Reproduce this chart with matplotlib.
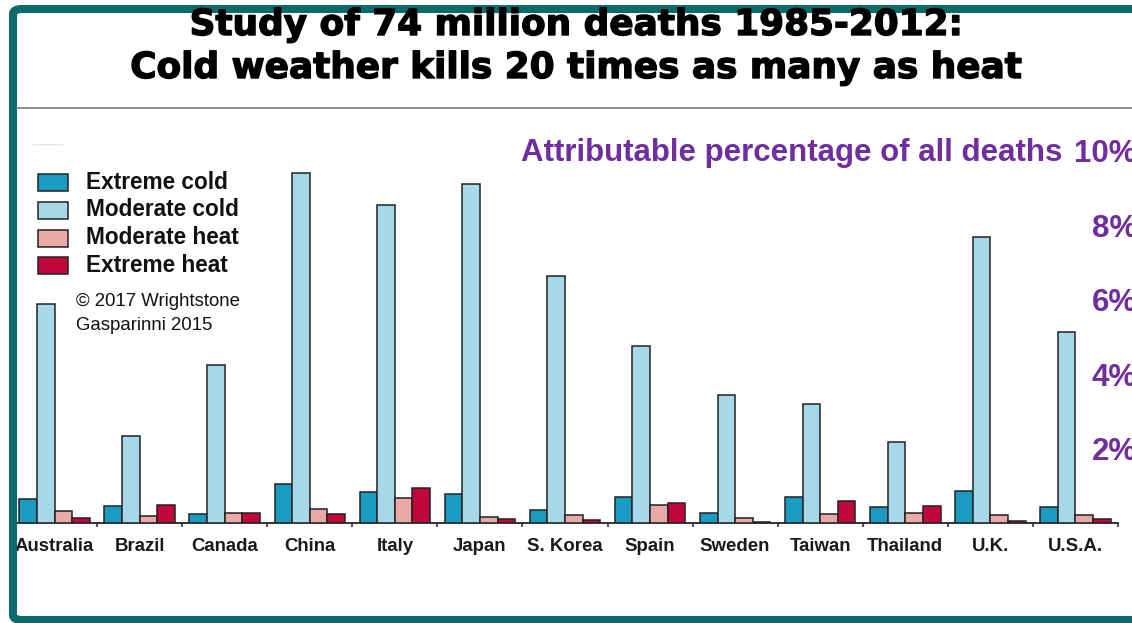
import matplotlib
matplotlib.use("Agg")
import matplotlib.pyplot as plt
import matplotlib.patheffects as pe
from matplotlib.patches import Rectangle, FancyBboxPatch
from matplotlib.lines import Line2D
import numpy as np

plt.rcParams['font.family'] = ['Liberation Sans', 'DejaVu Sans']

countries = ["Australia", "Brazil", "Canada", "China", "Italy", "Japan", "S. Korea",
             "Spain", "Sweden", "Taiwan", "Thailand", "U.K.", "U.S.A."]
extreme_cold = [0.65, 0.47, 0.23, 1.04, 0.83, 0.77, 0.35, 0.71, 0.26, 0.71, 0.44, 0.87, 0.44]
moderate_cold = [5.89, 2.34, 4.25, 9.41, 8.55, 9.11, 6.64, 4.76, 3.44, 3.20, 2.18, 7.69, 5.13]
moderate_heat = [0.32, 0.20, 0.26, 0.38, 0.68, 0.17, 0.21, 0.48, 0.13, 0.24, 0.28, 0.21, 0.21]
extreme_heat = [0.13, 0.48, 0.26, 0.23, 0.95, 0.11, 0.08, 0.53, 0.04, 0.59, 0.47, 0.05, 0.12]

series_names = ["Extreme cold", "Moderate cold", "Moderate heat", "Extreme heat"]
series_colors = ["#1b9bc2", "#a7d8ea", "#e9a9a6", "#c1073a"]
y_ticks = [2, 4, 6, 8, 10]
y_labels = ["2%", "4%", "6%", "8%", "10%"]

W, H = 1132, 623
fig = plt.figure(figsize=(W / 100, H / 100), dpi=100)
fig.patch.set_facecolor("white")

def fx(px):
    return px / W

def fy(py):
    return 1 - py / H

# plotting area: baseline at y=523 px, 37.2 px per percentage point
ax_left, ax_right = 12, 1118
base, top = 523, 523 - 10.5 * 37.2
ax = fig.add_axes([fx(ax_left), fy(base), fx(ax_right - ax_left), (base - top) / H])
ax.set_xlim(-0.5, len(countries) - 0.5)
ax.set_ylim(0, 10.5)

x = np.arange(len(countries))
w = 0.207
purple = "#6f2da0"
edge = "#222222"
for i, (vals, col) in enumerate(zip([extreme_cold, moderate_cold, moderate_heat, extreme_heat],
                                    series_colors)):
    ax.bar(x + (i - 1.5) * w, vals, width=w, color=col, edgecolor=edge, linewidth=1.1,
           label=series_names[i], zorder=3)

for s in ["left", "top", "right"]:
    ax.spines[s].set_visible(False)
ax.spines["bottom"].set_color("#333333")
ax.spines["bottom"].set_linewidth(1.4)
ax.spines["bottom"].set_bounds(-0.44, len(countries) - 0.5)

ax.set_xticks(x)
ax.set_xticklabels(countries, fontsize=13.4, fontweight="bold", color="#1a1a1a")
ax.tick_params(axis="x", which="major", length=0, pad=11)
ax.set_xticks(np.arange(0.5, len(countries)), minor=True)
ax.tick_params(axis="x", which="minor", length=3, width=1.2, color="#333333", direction="out")

ax.yaxis.tick_right()
ax.set_yticks(y_ticks)
ax.set_yticklabels(y_labels, fontsize=22.5, fontweight="bold", color=purple)
ax.tick_params(axis="y", length=0, pad=0)
for lbl in ax.get_yticklabels():
    lbl.set_horizontalalignment("right")
    lbl.set_x(1 + 19 / (ax_right - ax_left))

ax.text(fx(521), fy(153), "Attributable percentage of all deaths", transform=fig.transFigure,
        fontsize=22.5, fontweight="bold", color=purple, ha="left", va="center")

# title block
title_font = ["DejaVu Sans"]
heavy = [pe.withStroke(linewidth=1.0, foreground="black")]
fig.text(fx(577), fy(25), "Study of 74 million deaths 1985-2012:", fontsize=25.8,
         family=title_font, fontweight="bold", ha="center", va="center", color="black",
         path_effects=heavy)
fig.text(fx(577), fy(68), "Cold weather kills 20 times as many as heat", fontsize=25.8,
         family=title_font, fontweight="bold", ha="center", va="center", color="black",
         path_effects=heavy)
fig.add_artist(Line2D([fx(17), fx(1132)], [fy(108), fy(108)], color="#7a7a7a", lw=1.2))
fig.add_artist(Line2D([fx(33), fx(62)], [fy(144), fy(144)], color="#e6e6e6", lw=1.0))

# legend
leg_y = [182, 210, 238, 265]
for yy, name, col in zip(leg_y, series_names, series_colors):
    fig.add_artist(Rectangle((fx(38), fy(yy + 8.5)), fx(30), 17 / H, transform=fig.transFigure,
                             facecolor=col, edgecolor=edge, linewidth=1.1))
    fig.text(fx(86), fy(yy), name, fontsize=16.3, fontweight="bold", ha="left", va="center",
             color="#111111")

fig.text(fx(76), fy(302), "\u00a9 2017 Wrightstone", fontsize=13.4, ha="left", va="center",
         color="#111111")
fig.text(fx(76), fy(325), "Gasparinni 2015", fontsize=13.4, ha="left", va="center",
         color="#111111")

# frame
fig.add_artist(FancyBboxPatch((fx(13), fy(620)), fx(1150 - 13), (620 - 9) / H,
                              boxstyle="round,pad=0,rounding_size=0.008",
                              transform=fig.transFigure, facecolor="none",
                              edgecolor="#0c6a6c", linewidth=5.8))

fig.savefig("out.png", dpi=100)
